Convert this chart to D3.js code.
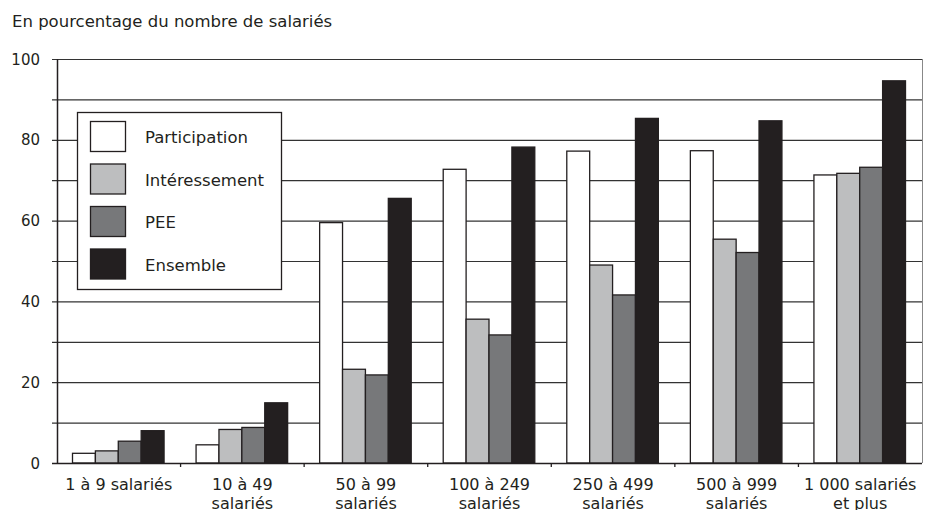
<!DOCTYPE html>
<html>
  <head>
    <script type="text/javascript" src="https://cdn.jsdelivr.net/npm/d3@7/dist/d3.min.js"></script>
    <style type="text/css">

html, body {
  margin: 0;
  background: #fff;
}

svg {
  display: block;
  font-family: "DejaVu Sans", sans-serif;
}

    </style>
  </head>
  <body>
    <div id="chart"></div>
    <script type="text/javascript">

var categories = [
  ["1 à 9 salariés"],
  ["10 à 49", "salariés"],
  ["50 à 99", "salariés"],
  ["100 à 249", "salariés"],
  ["250 à 499", "salariés"],
  ["500 à 999", "salariés"],
  ["1 000 salariés", "et plus"]
];
var series = ["Participation", "Intéressement", "PEE", "Ensemble"];
var participation = [2.4, 4.5, 59.5, 72.7, 77.2, 77.3, 71.3];
var interessement = [3.0, 8.3, 23.2, 35.6, 49.0, 55.4, 71.7];
var pee = [5.4, 8.8, 21.8, 31.7, 41.6, 52.1, 73.2];
var ensemble = [8.0, 14.9, 65.5, 78.2, 85.3, 84.7, 94.6];
var yTicks = [0, 20, 40, 60, 80, 100];
var colors = ["#ffffff", "#bdbebf", "#77787a", "#231f20"];

var values = [participation, interessement, pee, ensemble];

var width = 926, height = 510,
    plotLeft = 57, plotRight = 922, plotTop = 59, plotBottom = 463;

var svg = d3.select("#chart").append("svg")
    .attr("width", width)
    .attr("height", height);

svg.append("text")
    .attr("x", 12)
    .attr("y", 27)
    .style("font-size", "16.5px")
    .style("fill", "#231f20")
    .text("En pourcentage du nombre de salariés");

var x = d3.scaleBand()
    .domain(d3.range(categories.length))
    .range([plotLeft, plotRight]);

var inner = d3.scaleBand()
    .domain(d3.range(series.length))
    .range([15, x.bandwidth() - 17]);

var y = d3.scaleLinear()
    .domain([0, 100])
    .range([plotBottom, plotTop]);

// grid every 10
svg.append("g").selectAll("line")
    .data(d3.range(10, 101, 10))
  .enter().append("line")
    .attr("x1", plotLeft - 5)
    .attr("x2", plotRight)
    .attr("y1", function(d) { return y(d) + 0.5; })
    .attr("y2", function(d) { return y(d) + 0.5; })
    .style("stroke", "#333")
    .style("stroke-width", 1.2);

// right border
svg.append("line")
    .attr("x1", plotRight + 0.5).attr("x2", plotRight + 0.5)
    .attr("y1", plotTop).attr("y2", plotBottom)
    .style("stroke", "#888")
    .style("stroke-width", 1);

// bars
var groups = svg.append("g").selectAll("g")
    .data(categories)
  .enter().append("g")
    .attr("transform", function(d, i) { return "translate(" + x(i) + ",0)"; });

groups.selectAll("rect")
    .data(function(d, i) { return values.map(function(v, s) { return {s: s, v: v[i]}; }); })
  .enter().append("rect")
    .attr("x", function(d) { return inner(d.s) + 0.5; })
    .attr("width", inner.bandwidth())
    .attr("y", function(d) { return y(d.v); })
    .attr("height", function(d) { return plotBottom - y(d.v); })
    .style("fill", function(d) { return colors[d.s]; })
    .style("stroke", "#231f20")
    .style("stroke-width", 1.3);

// y axis
svg.append("line")
    .attr("x1", plotLeft + 0.5).attr("x2", plotLeft + 0.5)
    .attr("y1", plotTop).attr("y2", plotBottom + 1)
    .style("stroke", "#231f20")
    .style("stroke-width", 1.5);

svg.append("g").selectAll("text")
    .data(yTicks)
  .enter().append("text")
    .attr("x", 40)
    .attr("y", function(d) { return y(d) + 5.5; })
    .attr("text-anchor", "end")
    .style("font-size", "15px")
    .style("fill", "#231f20")
    .text(function(d) { return d; });

// x axis
svg.append("line")
    .attr("x1", plotLeft - 5).attr("x2", plotRight)
    .attr("y1", plotBottom + 0.5).attr("y2", plotBottom + 0.5)
    .style("stroke", "#231f20")
    .style("stroke-width", 1.5);

svg.append("g").selectAll("line")
    .data(d3.range(1, categories.length))
  .enter().append("line")
    .attr("x1", function(d) { return x(d); })
    .attr("x2", function(d) { return x(d); })
    .attr("y1", plotBottom)
    .attr("y2", plotBottom + 4)
    .style("stroke", "#231f20")
    .style("stroke-width", 1.3);

var labels = svg.append("g").selectAll("text")
    .data(categories)
  .enter().append("text")
    .attr("x", function(d, i) { return x(i) + x.bandwidth() / 2; })
    .attr("y", 490)
    .attr("text-anchor", "middle")
    .style("font-size", "16px")
    .style("fill", "#231f20");

labels.selectAll("tspan")
    .data(function(d) { return d; })
  .enter().append("tspan")
    .attr("x", function() { return d3.select(this.parentNode).attr("x"); })
    .attr("dy", function(d, i) { return i ? 19 : 0; })
    .text(function(d) { return d; });

// legend
var legend = svg.append("g");

legend.append("rect")
    .attr("x", 77.5).attr("y", 112.5)
    .attr("width", 204).attr("height", 177)
    .style("fill", "#fff")
    .style("stroke", "#231f20")
    .style("stroke-width", 1.3);

var items = legend.selectAll("g")
    .data(series)
  .enter().append("g")
    .attr("transform", function(d, i) { return "translate(90," + (121 + i * 42.5) + ")"; });

items.append("rect")
    .attr("x", 0.5).attr("y", 0.5)
    .attr("width", 35).attr("height", 30)
    .style("fill", function(d, i) { return colors[i]; })
    .style("stroke", "#231f20")
    .style("stroke-width", 1.3);

items.append("text")
    .attr("x", 55)
    .attr("y", 22)
    .style("font-size", "16.5px")
    .style("fill", "#231f20")
    .text(function(d) { return d; });

    </script>
  </body>
</html>
